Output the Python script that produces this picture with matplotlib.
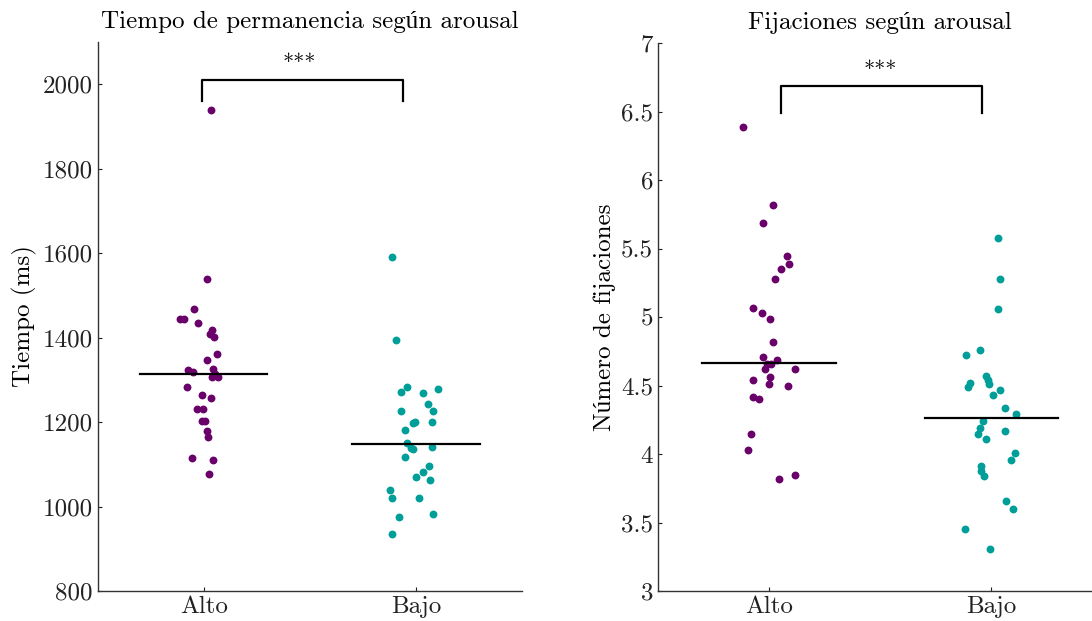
import matplotlib
matplotlib.use("Agg")
import matplotlib.pyplot as plt

# Fonts: Computer Modern look, with a fallback for accented letters
plt.rcParams["font.family"] = ["cmr10", "Liberation Serif"]
plt.rcParams["mathtext.fontset"] = "cm"
plt.rcParams["axes.formatter.use_mathtext"] = True

# ---- Data ----
groups = ["Alto", "Bajo"]

tiempo_alto = [1938, 1538, 1468, 1444, 1444, 1434, 1418, 1409, 1402, 1361,
               1348, 1326, 1323, 1318, 1306, 1307, 1314, 1284, 1265, 1257,
               1232, 1232, 1203, 1203, 1178, 1164, 1116, 1111, 1077]
tiempo_bajo = [1590, 1394, 1284, 1272, 1269, 1278, 1243, 1227, 1227, 1201,
               1197, 1201, 1182, 1150, 1138, 1137, 1140, 1118, 1096, 1083,
               1070, 1062, 1039, 1021, 1021, 976, 982, 934]

fij_alto = [6.39, 5.82, 5.69, 5.45, 5.39, 5.35, 5.28, 5.07, 5.03, 4.99,
            4.82, 4.71, 4.69, 4.66, 4.66, 4.62, 4.62, 4.54, 4.56, 4.51,
            4.50, 4.42, 4.40, 4.15, 4.03, 3.85, 3.82]
fij_bajo = [5.58, 5.28, 5.06, 4.76, 4.72, 4.57, 4.54, 4.52, 4.49, 4.51,
            4.47, 4.43, 4.34, 4.29, 4.24, 4.19, 4.17, 4.15, 4.11, 4.01,
            3.96, 3.91, 3.88, 3.84, 3.66, 3.60, 3.45, 3.31]

tiempo_means = [1315, 1148]
fij_means = [4.665, 4.263]

# horizontal jitter of each point
tiempo_alto_dx = [0.033, 0.014, -0.046, -0.112, -0.093, -0.027, 0.038, 0.030,
                  0.049, 0.063, 0.014, 0.042, -0.074, -0.052, 0.038, 0.067,
                  0.053, -0.080, -0.008, 0.033, -0.032, -0.005, -0.009, 0.006,
                  0.014, 0.019, -0.057, 0.042, 0.025]
tiempo_bajo_dx = [-0.112, -0.096, -0.041, -0.072, 0.032, 0.105, 0.058, 0.081,
                  -0.072, -0.005, -0.013, 0.077, -0.052, -0.041, -0.025, -0.016,
                  0.077, -0.052, 0.061, 0.032, -0.001, 0.066, -0.122, -0.112,
                  0.016, -0.080, 0.081, -0.112]
fij_alto_dx = [-0.116, 0.017, -0.026, 0.080, 0.090, 0.053, 0.027, -0.071,
               -0.032, 0.005, 0.017, -0.026, 0.035, 0.009, -0.010, -0.018,
               0.118, -0.073, 0.005, 0.000, 0.084, -0.071, -0.044, -0.081,
               -0.096, 0.117, 0.046]
fij_bajo_dx = [0.030, 0.037, 0.030, -0.050, -0.113, -0.023, -0.017, -0.098,
               -0.105, -0.010, 0.037, 0.006, 0.060, 0.113, -0.037, -0.050,
               0.063, -0.060, -0.023, 0.105, 0.090, -0.045, -0.045, -0.032,
               0.068, 0.096, -0.117, -0.008]

# ---- Style ----
col_alto = "#6A006A"
col_bajo = "#009E99"
fs = 18

fig = plt.figure(figsize=(10.92, 6.21), dpi=100)
ax1 = fig.add_axes([0.0893, 0.0483, 0.3888, 0.884])
ax2 = fig.add_axes([0.6026, 0.0483, 0.4070, 0.882])


def style_axis(ax):
    for side in ["top", "right"]:
        ax.spines[side].set_visible(False)
    for side in ["left", "bottom"]:
        ax.spines[side].set_color("#333333")
        ax.spines[side].set_linewidth(1.0)
    ax.tick_params(direction="in", length=3, width=0.8, labelsize=fs,
                   colors="#222222")
    ax.set_xlim(0.5, 2.5)
    ax.set_xticks([1, 2])
    ax.set_xticklabels(groups)


def draw_panel(ax, a_vals, a_dx, b_vals, b_dx, means):
    ax.scatter([1 + d for d in a_dx], a_vals, s=32, color=col_alto,
               linewidths=0, zorder=3)
    ax.scatter([2 + d for d in b_dx], b_vals, s=32, color=col_bajo,
               linewidths=0, zorder=3)
    for i, m in enumerate(means):
        ax.plot([i + 1 - 0.3, i + 1 + 0.3], [m, m], color="black", lw=1.6,
                zorder=4)


# Left panel: dwell time
style_axis(ax1)
draw_panel(ax1, tiempo_alto, tiempo_alto_dx, tiempo_bajo, tiempo_bajo_dx,
           tiempo_means)
ax1.set_ylim(800, 2100)
ax1.set_yticks([800, 1000, 1200, 1400, 1600, 1800, 2000])
ax1.set_yticklabels(["800", "1000", "1200", "1400", "1600", "1800", "2000"])
ax1.set_ylabel("Tiempo (ms)", fontsize=fs)
ax1.set_title("Tiempo de permanencia según arousal", fontsize=fs, pad=10)
ax1.plot([0.99, 0.99, 1.937, 1.937], [1960, 2010, 2010, 1960],
         color="black", lw=1.6)
ax1.text(1.45, 2050, "***", ha="center", va="center", fontsize=16)

# Right panel: fixations
style_axis(ax2)
draw_panel(ax2, fij_alto, fij_alto_dx, fij_bajo, fij_bajo_dx, fij_means)
ax2.set_ylim(3, 7)
ax2.set_yticks([3, 3.5, 4, 4.5, 5, 5.5, 6, 6.5, 7])
ax2.set_yticklabels(["3", "3.5", "4", "4.5", "5", "5.5", "6", "6.5", "7"])
ax2.set_ylabel("Número de fijaciones", fontsize=fs)
ax2.set_title("Fijaciones según arousal", fontsize=fs, pad=10)
ax2.plot([1.054, 1.054, 1.96, 1.96], [6.49, 6.69, 6.69, 6.49],
         color="black", lw=1.6)
ax2.text(1.5, 6.80, "***", ha="center", va="center", fontsize=16)

fig.savefig("out.png", dpi=100)
